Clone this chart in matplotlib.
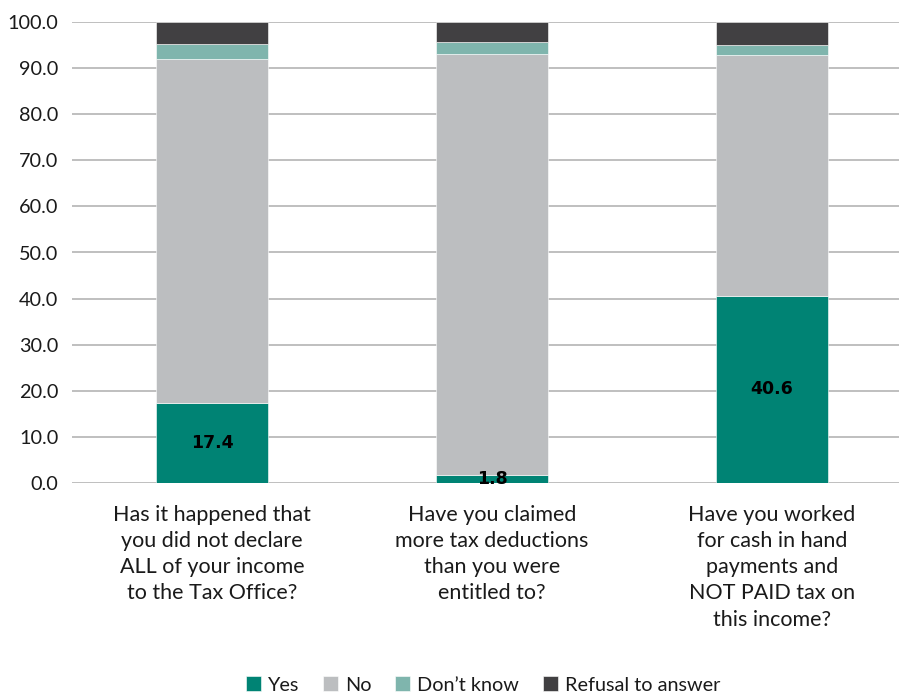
import numpy as np
import matplotlib.pyplot as plt

plt.rcParams['font.family'] = ['Lato', 'DejaVu Sans']

questions = [
    "Has it happened that\nyou did not declare\nALL of your income\nto the Tax Office?",
    "Have you claimed\nmore tax deductions\nthan you were\nentitled to?",
    "Have you worked\nfor cash in hand\npayments and\nNOT PAID tax on\nthis income?",
]
yes = [17.4, 1.8, 40.6]
no = [74.6, 91.3, 52.2]
dont_know = [3.3, 2.6, 2.3]
refusal = [4.7, 4.3, 4.9]

series = [("Yes", yes, "#008374"),
          ("No", no, "#bcbec0"),
          ("Don\u2019t know", dont_know, "#7fb5ad"),
          ("Refusal to answer", refusal, "#414042")]

fig = plt.figure(figsize=(8.99, 6.95), dpi=100)
ax = fig.add_axes([72 / 899, 212 / 695, 840 / 899, 461 / 695])

x = np.arange(len(questions))
bottom = np.zeros(len(questions))
bars = {}
for name, vals, col in series:
    bars[name] = ax.bar(x, vals, 0.4, bottom=bottom, color=col, label=name,
                        edgecolor="white", linewidth=0.4, zorder=3)
    bottom += np.array(vals)

# value labels on the "Yes" segments
ax.bar_label(bars["Yes"], labels=["%.1f" % v for v in yes], label_type="center",
             fontsize=12.5, fontweight="bold", family="DejaVu Sans",
             color="black", zorder=4)

ax.set_xlim(-0.5, 2.5)
ax.set_ylim(0, 100)
ax.set_yticks(np.arange(0, 101, 10))
ax.set_yticklabels(["%.1f" % v for v in np.arange(0, 101, 10)], fontsize=14.3, color="#1a1a1a")
ax.set_xticks(x)
ax.set_xticklabels(questions, fontsize=15.5, linespacing=1.38, color="#1a1a1a")
ax.tick_params(length=0, axis="y", pad=10)
ax.tick_params(length=0, axis="x", pad=16)
ax.yaxis.grid(True, color="#bfbfbf", linewidth=1.4, zorder=0)
ax.set_axisbelow(True)
for s in ax.spines.values():
    s.set_visible(False)

fig.legend(loc="center", bbox_to_anchor=(483 / 899, 10 / 695), ncol=4, frameon=False,
           fontsize=14.3, handlelength=0.75, handleheight=0.75, handletextpad=0.35,
           columnspacing=1.2, labelcolor="#1a1a1a")

fig.savefig("out.png", dpi=100)
